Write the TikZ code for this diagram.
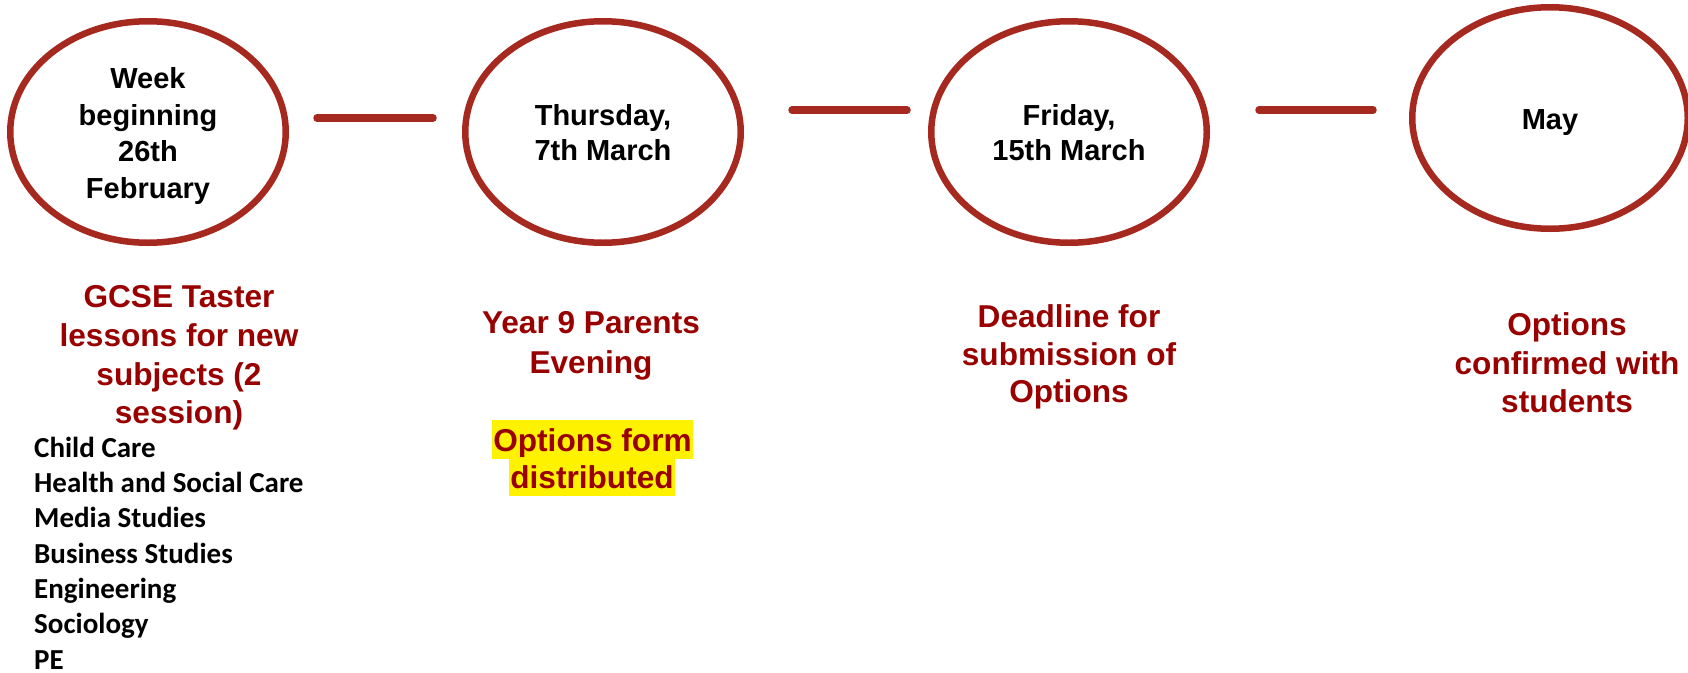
\documentclass[tikz,border=0pt]{standalone}
\usepackage{fontspec}
\setmainfont{Liberation Sans}
\newfontfamily\listfont{Carlito}
\usetikzlibrary{shapes.geometric}
\definecolor{ringred}{RGB}{166,41,32}
\definecolor{txtred}{RGB}{153,0,0}
\begin{document}
\begin{tikzpicture}[x=1pt,y=-1pt,
  ring/.style={draw=ringred, line width=6.5pt, ellipse, minimum width=275.5pt, minimum height=221.5pt, inner sep=0pt, align=center, font=\bfseries\fontsize{29}{36}\selectfont},
  bar/.style={draw=ringred, line width=7.5pt, line cap=round},
  redtxt/.style={text=txtred, align=center, inner sep=0pt, font=\bfseries\fontsize{31.6}{38.5}\selectfont},
  hl/.style={fill=yellow, text=txtred, inner xsep=1.5pt, inner ysep=0pt, text height=31pt, text depth=8pt, font=\bfseries\fontsize{31.6}{38.5}\selectfont},
  subjlist/.style={anchor=west, align=left, inner sep=0pt, font=\listfont\bfseries\fontsize{29}{35.3}\selectfont}
]
\useasboundingbox (0,0) rectangle (1688,672);

% date ellipses
\node[ring, font=\bfseries\fontsize{29}{36.5}\selectfont] (e1) at (148,132) {\rule{0pt}{29pt}Week\\beginning\\26th\\February};
\node[ring, font=\bfseries\fontsize{29}{35}\selectfont] (e2) at (603,132) {\rule{0pt}{23pt}Thursday,\\7th March};
\node[ring, font=\bfseries\fontsize{29}{35}\selectfont] (e3) at (1069,132) {\rule{0pt}{23pt}Friday,\\15th March};
\node[ring] (e4) at (1550,118) {\rule{0pt}{29pt}May};

% connecting bars
\coordinate (b1s) at (317,118); \coordinate (b1e) at (433,118);
\coordinate (b2s) at (792,110); \coordinate (b2e) at (907,110);
\coordinate (b3s) at (1259,110); \coordinate (b3e) at (1373,110);
\draw[bar] (b1s) -- (b1e);
\draw[bar] (b2s) -- (b2e);
\draw[bar] (b3s) -- (b3e);

% event descriptions
\node[redtxt, font=\bfseries\fontsize{31.6}{38.7}\selectfont] (t1) at (179,358) {GCSE Taster\\lessons for new\\subjects (2\\session)};
\node[subjlist] (subj) at (34,553) {Child Care\\Health and Social Care\\Media Studies\\Business Studies\\Engineering\\Sociology\\PE};

\node[redtxt, font=\bfseries\fontsize{31.6}{40}\selectfont] (t2) at (591,346) {Year 9 Parents\\Evening};
\node[hl, anchor=base] (h1) at (592.5,451) {Options form};
\node[hl, anchor=base] (h2) at (592,488) {distributed};

\node[redtxt, font=\bfseries\fontsize{31.6}{37.5}\selectfont] (t3) at (1069,357) {Deadline for\\submission of\\Options};
\node[redtxt] (t4) at (1567,363) {Options\\confirmed with\\students};
\end{tikzpicture}
\end{document}
